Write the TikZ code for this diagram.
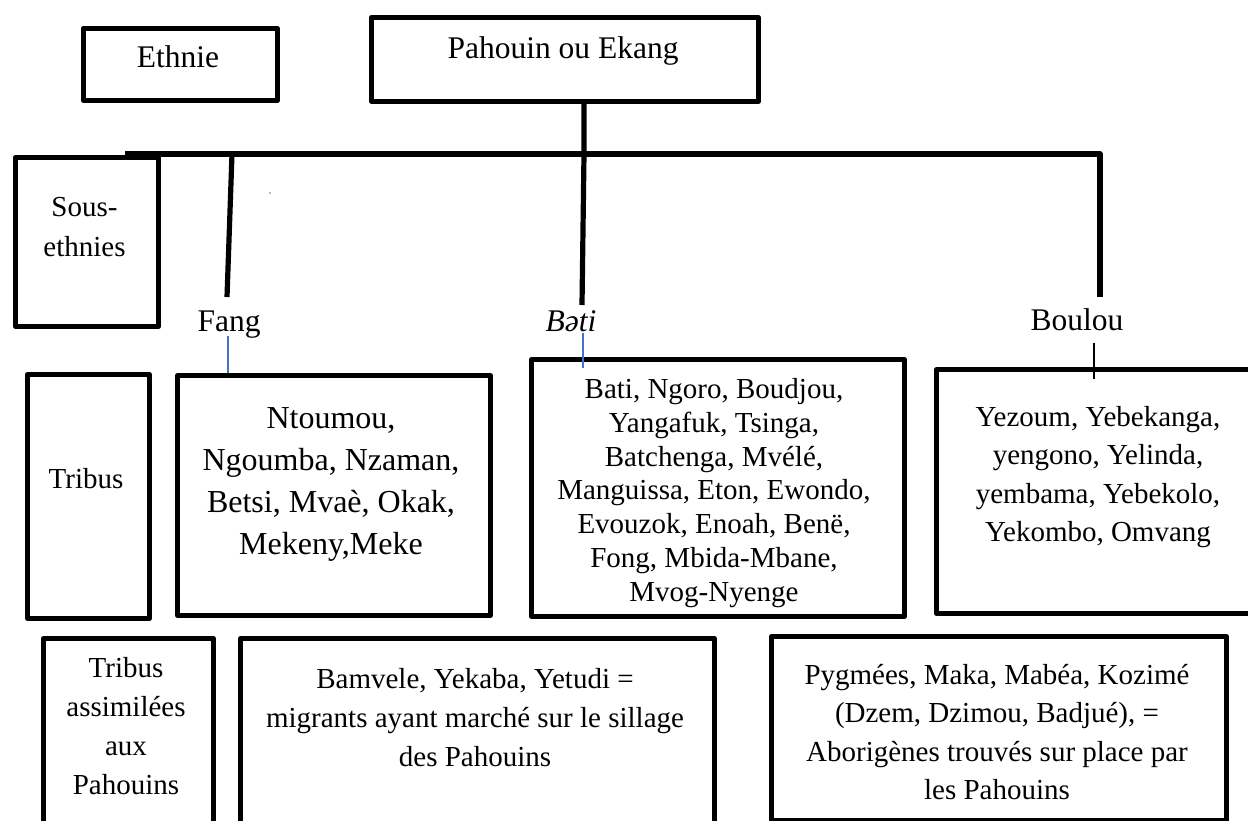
\documentclass[tikz,border=0pt]{standalone}
\usepackage{fontspec}
\setmainfont{Liberation Serif}
\usetikzlibrary{calc}
\definecolor{wordblue}{RGB}{68,114,196}
\tikzset{
  box/.style={draw=black, line width=4.8pt, line join=round, inner sep=0pt, anchor=north west},
  bar/.style={draw=black, line width=5.2pt, line join=round},
  thinblue/.style={draw=wordblue, line width=1.3pt},
  tick/.style={draw=black, line width=1.8pt},
  lbl/.style={inner sep=0pt, anchor=base, font={\fontsize{31.5}{38}\selectfont}},
  side/.style={inner sep=0pt, align=center, font={\fontsize{29}{40}\selectfont}},
  txt/.style={inner sep=0pt, align=center}
}
\begin{document}
\begin{tikzpicture}[x=1pt,y=-1pt]
\useasboundingbox (0,0) rectangle (1248,821);
% boxes
\node[box, minimum width=194pt, minimum height=72pt] (ethnieBox) at (81,26) {};
\node[box, minimum width=387pt, minimum height=84pt] (pahouinBox) at (369,15) {};
\node[box, minimum width=143pt, minimum height=169pt] (sousBox) at (13,155) {};
\node[box, minimum width=122pt, minimum height=244pt] (tribusBox) at (25,372) {};
\node[box, minimum width=313pt, minimum height=240pt] (fangBox) at (175,373) {};
\node[box, minimum width=373pt, minimum height=257pt] (batiBox) at (529,357) {};
\node[box, minimum width=340pt, minimum height=244pt] (boulouBox) at (934,367) {};
\node[box, minimum width=170pt, minimum height=200pt] (assimBox) at (41,636) {};
\node[box, minimum width=474pt, minimum height=200pt] (bamveleBox) at (238,636) {};
\node[box, minimum width=455pt, minimum height=184pt] (aborBox) at (769,634) {};
% texts
\node[lbl] (ethnie) at (178,68) {Ethnie};
\node[lbl] (pahouin) at (563,59) {Pahouin ou Ekang};
\node[side] (sous) at (84.5,227) {Sous-\\ethnies};
\node[lbl] (fang) at (229,331) {Fang};
\node[lbl] (bati) at (571,331) {\textit{Bəti}};
\node[lbl] (boulou) at (1077,330) {Boulou};
\node[side, anchor=base] (tribus) at (86,488) {Tribus};
\node[txt, font={\fontsize{32}{42}\selectfont}] (fangT) at (331,484) {Ntoumou,\\Ngoumba, Nzaman,\\Betsi, Mvaè, Okak,\\Mekeny,Meke};
\node[txt, font={\fontsize{29}{33.8}\selectfont}] (batiT) at (714,493) {Bati, Ngoro, Boudjou,\\Yangafuk, Tsinga,\\Batchenga, Mvélé,\\Manguissa, Eton, Ewondo,\\Evouzok, Enoah, Benë,\\Fong, Mbida-Mbane,\\Mvog-Nyenge};
\node[txt, font={\fontsize{29}{38.5}\selectfont}] (boulouT) at (1098,477) {Yezoum, Yebekanga,\\yengono, Yelinda,\\yembama, Yebekolo,\\Yekombo, Omvang};
\node[txt, font={\fontsize{29}{39}\selectfont}] (assimT) at (126,726) {Tribus\\assimilées\\aux\\Pahouins};
\node[txt, font={\fontsize{29}{39}\selectfont}] (bamveleT) at (475,718) {Bamvele, Yekaba, Yetudi =\\migrants ayant marché sur le sillage\\des Pahouins};
\node[txt, font={\fontsize{29}{38.5}\selectfont}] (aborT) at (997,732) {Pygmées, Maka, Mabéa, Kozimé\\(Dzem, Dzimou, Badjué), =\\Aborigènes trouvés sur place par\\les Pahouins};
% connectors
\coordinate (jLeft) at (125,154);
\coordinate (jFang) at (232,154);
\coordinate (jBati) at (584,154);
\coordinate (jRight) at (1100,154);
\coordinate (fangEnd) at (227,297);
\coordinate (batiEnd) at (582,305);
\coordinate (boulouEnd) at (1100,297);
\draw[bar] (jLeft) -- (jRight) -- (boulouEnd);
\draw[bar] (jFang) -- (fangEnd);
\draw[bar] (pahouinBox.south -| jBati) -- (jBati) -- (batiEnd);
\draw[thinblue] (228,336) -- (fangBox.north -| 228,0);
\draw[thinblue] (583,333) -- (583,368);
\draw[tick] (1094,343) -- (1094,379);
\fill[wordblue] (270,193) circle (0.8pt);
\end{tikzpicture}
\end{document}
